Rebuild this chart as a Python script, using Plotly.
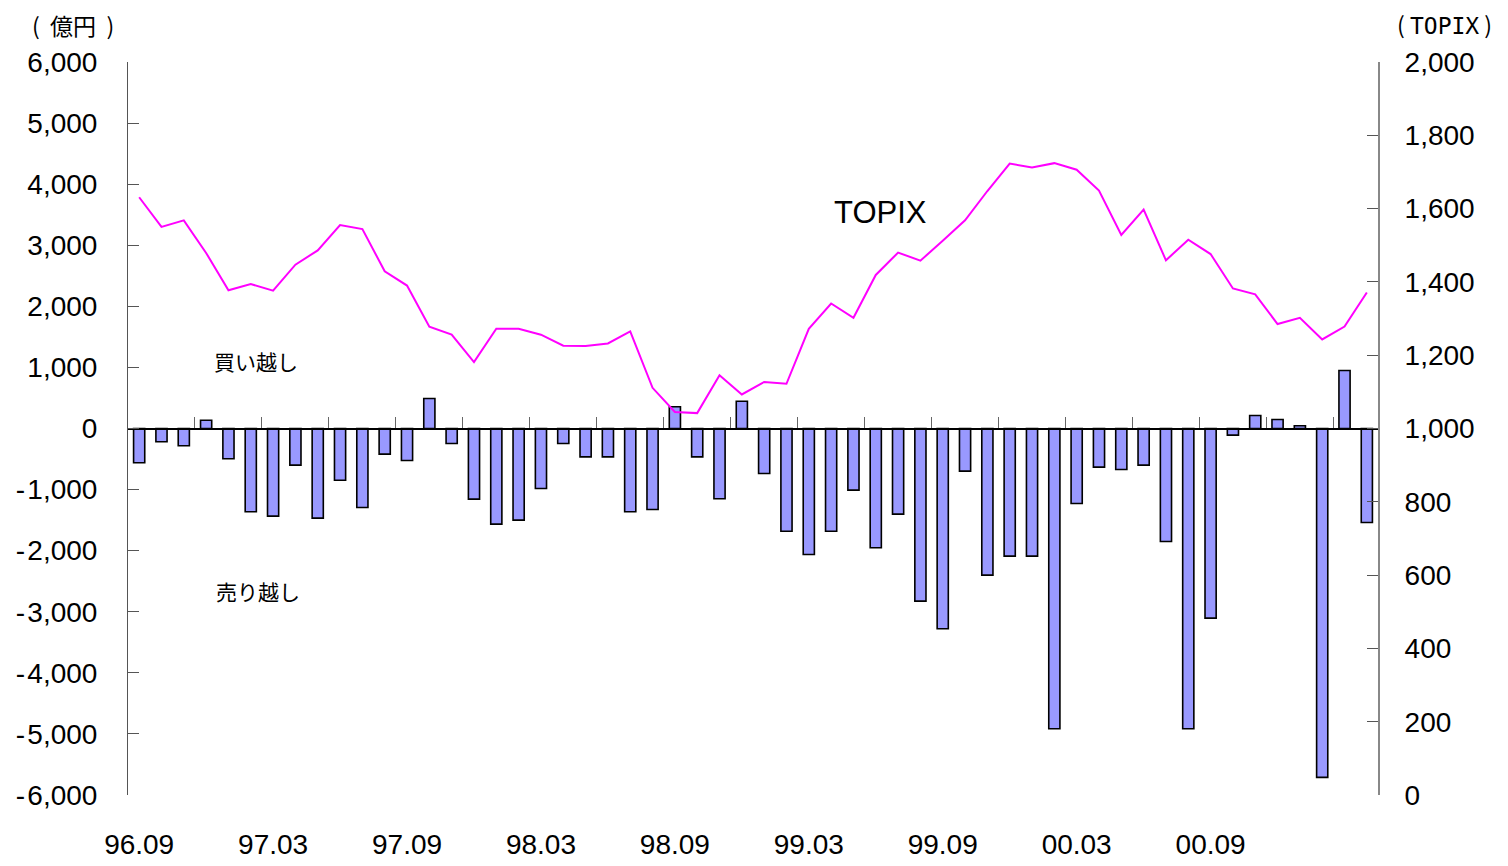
import plotly.graph_objects as go

# ---- data ----
start_year, start_month = 1996, 9
net_flow = [-560, -218, -283, 136, -496, -1364, -1435, -600, -1468, -846,
            -1293, -420, -524, 491, -245, -1157, -1566, -1500, -982, -245,
            -464, -464, -1364, -1326, 355, -464, -1151, 447, -736, -1681,
            -2062, -1681, -1009, -1953, -1402, -2826, -3279, -698, -2401, -2089,
            -2089, -4915, -1227, -633, -671, -600, -1849, -4915, -3104, -109,
            213, 147, 44, -5712, 949, -1538]
topix = [1631, 1550, 1568, 1479, 1377, 1394, 1376, 1447, 1486, 1555,
         1544, 1429, 1390, 1278, 1256, 1181, 1272, 1272, 1256, 1226,
         1225, 1232, 1265, 1111, 1045, 1042, 1145, 1093, 1127, 1122,
         1272, 1341, 1302, 1419, 1480, 1458, 1512, 1568, 1648, 1723,
         1712, 1724, 1706, 1649, 1528, 1597, 1459, 1515, 1476, 1382,
         1366, 1285, 1302, 1243, 1278, 1371]
x_tick_labels = ["96.09", "97.03", "97.09", "98.03", "98.09",
                 "99.03", "99.09", "00.03", "00.09"]
left_ticks = [6000, 5000, 4000, 3000, 2000, 1000, 0,
              -1000, -2000, -3000, -4000, -5000, -6000]
right_ticks = [2000, 1800, 1600, 1400, 1200, 1000, 800, 600, 400, 200, 0]

n = len(net_flow)
months = []
y, m = start_year, start_month
for _ in range(n):
    months.append(f"{y % 100:02d}.{m:02d}")
    m += 1
    if m > 12:
        m, y = 1, y + 1
xi = list(range(n))
label_pos = [months.index(t) for t in x_tick_labels]
boundary_pos = [k - 0.5 for k in range(3, n, 3)]


def fmt(v):
    s = f"{abs(v):,}"
    return ("-\u200a" + s) if v < 0 else s


FONT = "Liberation Sans, Arial, sans-serif"
JP = "Noto Sans CJK JP, sans-serif"

fig = go.Figure()
fig.add_trace(go.Bar(
    x=xi, y=net_flow, width=0.5,
    marker=dict(color="#9999FF", line=dict(color="black", width=1.6)),
    customdata=months, hovertemplate="%{customdata}: %{y}<extra></extra>",
    showlegend=False,
))
fig.add_trace(go.Scatter(
    x=xi, y=topix, yaxis="y2", mode="lines",
    line=dict(color="#FF00FF", width=2),
    customdata=months, hovertemplate="%{customdata}: %{y}<extra></extra>",
    showlegend=False,
))
# empty trace so the zero-line x axis is drawn
fig.add_trace(go.Scatter(x=[None], y=[None], xaxis="x2", showlegend=False,
                         hoverinfo="skip"))

xr = [-0.5, n - 0.5]
# the page body adds an 8px margin, so the figure is 8px smaller and
# its top/left margins are reduced by 8px
fig.update_layout(
    width=1500, height=858,
    margin=dict(l=120, r=130, t=54, b=71, autoexpand=False),
    paper_bgcolor="white", plot_bgcolor="white",
    font=dict(family=FONT, size=28, color="black"),
    bargap=0.5,
    xaxis=dict(
        range=xr, showgrid=False, zeroline=False, showline=False,
        automargin=False,
        tickmode="array", tickvals=label_pos, ticktext=x_tick_labels,
        ticks="", tickfont=dict(size=28), ticklabelstandoff=30,
    ),
    xaxis2=dict(
        range=xr, overlaying="x", anchor="free", position=0.5, side="bottom",
        showgrid=False, zeroline=False, showline=True, automargin=False,
        linecolor="black", linewidth=1.5,
        tickmode="array", tickvals=boundary_pos, ticks="inside",
        ticklen=11, tickcolor="#666666", tickwidth=1, showticklabels=False,
    ),
    yaxis=dict(
        range=[-6000, 6000], showgrid=False, zeroline=False, automargin=False,
        showline=True, linecolor="#555555", linewidth=1,
        tickmode="array", tickvals=left_ticks,
        ticktext=[fmt(v) for v in left_ticks],
        ticks="inside", ticklen=11, tickcolor="#555555",
        tickfont=dict(size=28), ticklabelstandoff=24,
    ),
    yaxis2=dict(
        range=[0, 2000], overlaying="y", side="right", showgrid=False,
        zeroline=False, showline=True, automargin=False,
        linecolor="#888888", linewidth=2,
        tickmode="array", tickvals=right_ticks,
        ticktext=[fmt(v) for v in right_ticks],
        ticks="inside", ticklen=11, tickcolor="#555555",
        tickfont=dict(size=28), ticklabelstandoff=19,
    ),
)

fig.add_annotation(text="TOPIX", x=33.2, y=3535, xref="x", yref="y",
                   xanchor="center", yanchor="middle",
                   showarrow=False, font=dict(family=FONT, size=31))
fig.add_annotation(text="買い越し", x=5.23, y=1097, xref="x", yref="y",
                   xanchor="center", yanchor="middle",
                   showarrow=False, font=dict(family=JP, size=21))
fig.add_annotation(text="売り越し", x=5.32, y=-2668, xref="x", yref="y",
                   xanchor="center", yanchor="middle",
                   showarrow=False, font=dict(family=JP, size=21))
fig.add_annotation(text="(  億円  )", x=-0.044, y=1.0505, xref="paper",
                   yref="paper", xanchor="center", yanchor="middle",
                   showarrow=False, font=dict(family=JP, size=23))
fig.add_annotation(
    text='( <span style="font-family:DejaVu Sans Mono">TOPIX</span> )',
    x=1.0535, y=1.0515, xref="paper", yref="paper",
    xanchor="center", yanchor="middle", showarrow=False,
    font=dict(family=JP, size=23))

fig.write_html("out.html")
